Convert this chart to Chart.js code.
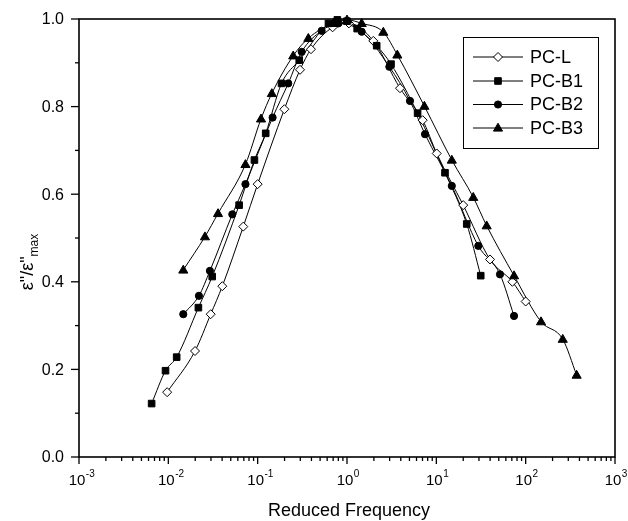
<!DOCTYPE html>
<html><head><meta charset="utf-8">
<script src="https://cdn.jsdelivr.net/npm/chart.js@4/dist/chart.umd.min.js"></script>
<style>html,body{margin:0;padding:0;background:#fff}canvas{display:block}</style>
</head><body>
<canvas id="c" width="628" height="521"></canvas>
<script>
// ---- data ----
const seriesNames = ['PC-L', 'PC-B1', 'PC-B2', 'PC-B3'];
const pcL_x  = [0.0097,0.0199,0.0298,0.0402,0.069,0.10,0.199,0.298,0.395,0.69,1.05,1.97,3.92,7.03,10.1,20.0,39.9,71,100];
const pcL_y  = [0.148,0.242,0.326,0.390,0.526,0.623,0.794,0.884,0.931,0.981,0.990,0.950,0.842,0.769,0.693,0.575,0.451,0.400,0.355];
const pcB1_x = [0.0065,0.0093,0.0124,0.0217,0.031,0.062,0.092,0.123,0.185,0.292,0.62,0.78,1.0,1.3,2.15,3.11,6.17,12.5,21.9,31.4];
const pcB1_y = [0.122,0.197,0.228,0.341,0.412,0.575,0.678,0.739,0.853,0.906,0.990,0.998,0.995,0.978,0.939,0.897,0.785,0.649,0.532,0.414];
const pcB2_x = [0.0147,0.022,0.0292,0.052,0.073,0.147,0.22,0.311,0.52,0.8,1.46,2.98,5.07,7.47,14.9,29.5,51.6,74.1];
const pcB2_y = [0.326,0.368,0.425,0.554,0.623,0.775,0.853,0.925,0.973,0.990,0.971,0.891,0.813,0.737,0.619,0.482,0.417,0.322];
const pcB3_x = [0.0147,0.0257,0.036,0.073,0.109,0.144,0.25,0.369,0.7,1.0,1.46,2.55,3.66,7.35,14.9,25.9,36.6,74.1,148.6,260,372];
const pcB3_y = [0.427,0.503,0.556,0.668,0.772,0.830,0.916,0.956,0.990,0.998,0.990,0.970,0.918,0.801,0.678,0.593,0.528,0.414,0.309,0.269,0.187];
const xTickExponents = [-3,-2,-1,0,1,2,3];
const yTickValues = [0,0.2,0.4,0.6,0.8,1.0];
const yTickLabels = ['0.0','0.2','0.4','0.6','0.8','1.0'];
const xAxisTitle = 'Reduced Frequency';
const yAxisTitleMain = 'ε"/ε"';
const yAxisTitleSub = 'max';

// ---- styles ----
const FONT = '"Liberation Sans", Arial, sans-serif';
const markerStyles = [
  {shape:'diamond', r:4.5, fill:'#ffffff'},
  {shape:'square',  r:3.3, fill:'#000000'},
  {shape:'circle',  r:3.6, fill:'#000000'},
  {shape:'triangle',r:4.8, fill:'#000000'}
];
const xs = [pcL_x, pcB1_x, pcB2_x, pcB3_x];
const ys = [pcL_y, pcB1_y, pcB2_y, pcB3_y];

function drawMarker(ctx, st, x, y) {
  ctx.save();
  ctx.beginPath();
  const r = st.r;
  if (st.shape === 'diamond') {
    ctx.moveTo(x, y - r); ctx.lineTo(x + r, y); ctx.lineTo(x, y + r); ctx.lineTo(x - r, y); ctx.closePath();
  } else if (st.shape === 'square') {
    ctx.rect(x - r, y - r, 2 * r, 2 * r);
  } else if (st.shape === 'circle') {
    ctx.arc(x, y, r, 0, Math.PI * 2);
  } else {
    ctx.moveTo(x, y - r); ctx.lineTo(x + r * 0.95, y + r * 0.65); ctx.lineTo(x - r * 0.95, y + r * 0.65); ctx.closePath();
  }
  ctx.fillStyle = st.fill; ctx.fill();
  ctx.lineWidth = 1; ctx.strokeStyle = '#000'; ctx.stroke();
  ctx.restore();
}

const datasets = seriesNames.map((name, i) => ({
  label: name,
  data: xs[i].map((x, j) => ({x: x, y: ys[i][j]})),
  borderColor: '#000',
  borderWidth: 1,
  cubicInterpolationMode: 'monotone',
  pointRadius: 0,
  pointHoverRadius: 0,
  fill: false
}));

const markerPlugin = {
  id: 'markers',
  afterDatasetsDraw(chart) {
    const ctx = chart.ctx;
    chart.data.datasets.forEach((ds, i) => {
      const meta = chart.getDatasetMeta(i);
      meta.data.forEach(pt => drawMarker(ctx, markerStyles[i], pt.x, pt.y));
    });
  }
};

const axesPlugin = {
  id: 'axesDraw',
  afterDraw(chart) {
    const ctx = chart.ctx;
    const a = chart.chartArea;
    const sx = chart.scales.x, sy = chart.scales.y;
    ctx.save();
    ctx.strokeStyle = '#000';
    ctx.fillStyle = '#000';
    // frame
    ctx.lineWidth = 1.6;
    ctx.strokeRect(a.left, a.top, a.right - a.left, a.bottom - a.top);
    ctx.lineWidth = 1.3;
    // x ticks
    xTickExponents.forEach((e, idx) => {
      const base = Math.pow(10, e);
      const px = sx.getPixelForValue(base);
      ctx.beginPath(); ctx.moveTo(px, a.bottom); ctx.lineTo(px, a.bottom + 7); ctx.stroke();
      if (idx < xTickExponents.length - 1) {
        for (let m = 2; m <= 9; m++) {
          const mx = sx.getPixelForValue(base * m);
          ctx.beginPath(); ctx.moveTo(mx, a.bottom); ctx.lineTo(mx, a.bottom + 4); ctx.stroke();
        }
      }
      // label 10^e
      ctx.font = '15px ' + FONT;
      ctx.textBaseline = 'alphabetic';
      ctx.textAlign = 'center';
      const w10 = ctx.measureText('10').width;
      const cx = px - 2;
      ctx.fillText('10', cx, a.bottom + 28);
      ctx.font = '10px ' + FONT;
      ctx.textAlign = 'left';
      ctx.fillText(String(e), cx + w10 / 2 + 0.5, a.bottom + 20);
    });
    // y ticks
    yTickValues.forEach((v, i) => {
      const py = sy.getPixelForValue(v);
      ctx.beginPath(); ctx.moveTo(a.left, py); ctx.lineTo(a.left - 8, py); ctx.stroke();
      if (i < yTickValues.length - 1) {
        const my = sy.getPixelForValue(v + 0.1);
        ctx.beginPath(); ctx.moveTo(a.left, my); ctx.lineTo(a.left - 4, my); ctx.stroke();
      }
      ctx.font = '16px ' + FONT;
      ctx.textAlign = 'right';
      ctx.textBaseline = 'middle';
      ctx.fillText(yTickLabels[i], a.left - 15, py + 1);
    });
    // x title
    ctx.font = '18px ' + FONT;
    ctx.textAlign = 'center';
    ctx.textBaseline = 'alphabetic';
    ctx.fillText(xAxisTitle, (a.left + a.right) / 2 + 2, 516);
    // y title (rotated)
    ctx.save();
    ctx.translate(33, (a.top + a.bottom) / 2 + 24);
    ctx.rotate(-Math.PI / 2);
    ctx.font = '18px ' + FONT;
    const wm = ctx.measureText(yAxisTitleMain).width;
    ctx.font = '12px ' + FONT;
    const ws = ctx.measureText(yAxisTitleSub).width;
    const start = -(wm + ws) / 2;
    ctx.textAlign = 'left';
    ctx.font = '18px ' + FONT;
    ctx.fillText(yAxisTitleMain, start, 0);
    ctx.font = '12px ' + FONT;
    ctx.fillText(yAxisTitleSub, start + wm, 5);
    ctx.restore();
    // legend
    ctx.lineWidth = 1;
    ctx.strokeRect(463.5, 37.5, 135, 111);
    const rowY = [57, 81, 104.5, 128];
    seriesNames.forEach((name, i) => {
      const y = rowY[i];
      ctx.beginPath(); ctx.moveTo(473, y); ctx.lineTo(523, y); ctx.stroke();
      drawMarker(ctx, markerStyles[i], 498, y);
      ctx.font = '18px ' + FONT;
      ctx.textAlign = 'left';
      ctx.textBaseline = 'middle';
      ctx.fillText(name, 530, y + 1);
    });
    ctx.restore();
  }
};

new Chart(document.getElementById('c'), {
  type: 'line',
  data: { datasets },
  options: {
    responsive: false,
    animation: false,
    events: [],
    layout: { padding: { left: 79, top: 19, right: 13, bottom: 64 } },
    plugins: { legend: { display: false }, tooltip: { enabled: false } },
    scales: {
      x: { type: 'logarithmic', min: 0.001, max: 1000, display: false },
      y: { type: 'linear', min: 0, max: 1, display: false }
    }
  },
  plugins: [markerPlugin, axesPlugin]
});
</script>
</body></html>
